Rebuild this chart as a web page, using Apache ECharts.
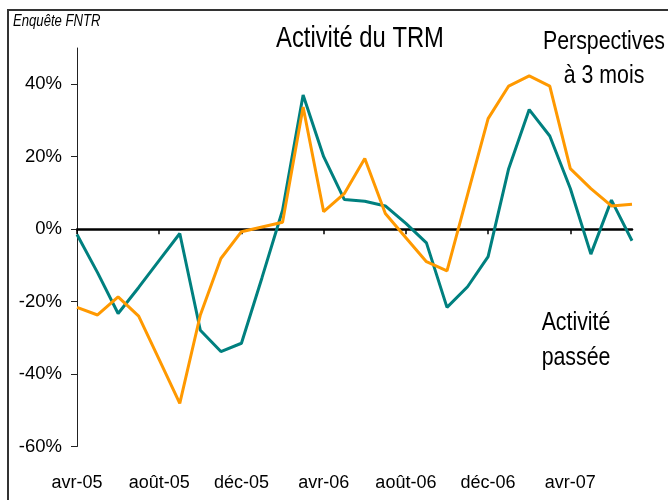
<!DOCTYPE html>
<html>
<head>
<meta charset="utf-8">
<script src="https://cdn.jsdelivr.net/npm/echarts@6/dist/echarts.min.js"></script>
<style>html,body{margin:0;padding:0;background:#fff}#c{width:668px;height:500px}</style>
</head>
<body>
<div id="c"></div>
<script>
const categories = ['avr-05','mai-05','juin-05','juil-05','août-05','sept-05','oct-05','nov-05','déc-05','janv-06','févr-06','mars-06','avr-06','mai-06','juin-06','juil-06','août-06','sept-06','oct-06','nov-06','déc-06','janv-07','févr-07','mars-07','avr-07','mai-07','juin-07','juil-07'];
const activitePassee = [-1.5,-12,-23.3,-16.1,-8.6,-1.2,-27.9,-33.8,-31.5,-13.4,5.2,37,20,8.2,7.7,6.4,1.6,-3.8,-21.6,-15.9,-7.6,16.7,33,25.7,11.2,-6.9,8,-3.2];
const perspectives = [-21.6,-23.7,-18.7,-24,-36,-48.1,-23.7,-8.1,-0.7,0.6,1.9,33.7,4.8,9.8,19.5,4.3,-2.4,-9,-11.5,9.5,30.5,39.5,42.3,39.5,16.7,11.2,6.4,6.9];
const yTicks = [-60,-40,-20,0,20,40];

const FONT = "'Liberation Sans',Arial,sans-serif";
const NARROW = 0.82;
const chart = echarts.init(document.getElementById('c'), null, {renderer:'canvas'});
chart.setOption({
  animation:false,
  backgroundColor:'#fff',
  grid:{left:77,right:36,top:48,bottom:53.5,containLabel:false},
  xAxis:[{
    type:'category',data:categories,boundaryGap:false,position:'bottom',
    axisLine:{onZero:true,lineStyle:{color:'#000',width:2.5}},
    axisTick:{show:true,interval:3,length:5,lineStyle:{color:'#000',width:1.5}},
    axisLabel:{show:false},splitLine:{show:false}
  },{
    type:'category',data:categories,boundaryGap:false,position:'bottom',
    axisLine:{show:false,onZero:false},axisTick:{show:false},
    axisLabel:{show:true,interval:3,margin:28,color:'#000',fontSize:18,fontFamily:FONT},
    splitLine:{show:false}
  }],
  yAxis:{
    type:'value',min:-60,max:50,interval:20,
    axisLine:{show:true,lineStyle:{color:'#222',width:1}},
    axisTick:{show:true,length:6,customValues:yTicks,lineStyle:{color:'#222'}},
    axisLabel:{color:'#000',fontSize:18.5,fontFamily:FONT,margin:15,customValues:yTicks,formatter:v=>v+'%'},
    splitLine:{show:false}
  },
  series:[
    {name:'Activité passée',type:'line',data:activitePassee,xAxisIndex:0,symbol:'none',lineStyle:{color:'#00807F',width:3},itemStyle:{color:'#00807F'}},
    {name:'Perspectives à 3 mois',type:'line',data:perspectives,xAxisIndex:0,symbol:'none',lineStyle:{color:'#FF9900',width:3},itemStyle:{color:'#FF9900'}}
  ],
  graphic:[
    {type:'rect',shape:{x:8,y:10,width:700,height:520},style:{fill:'none',stroke:'#333',lineWidth:2},silent:true,z:-1},
    {type:'text',x:13,y:22,scaleX:NARROW,style:{text:'Enquête FNTR',font:'italic 16px '+FONT,fill:'#000',align:'left',verticalAlign:'middle'}},
    {type:'text',x:360,y:39,scaleX:NARROW,style:{text:'Activité du TRM',font:'29px '+FONT,fill:'#000',align:'center',verticalAlign:'middle'}},
    {type:'text',x:604,y:59,scaleX:NARROW,style:{text:'Perspectives\nà 3 mois',font:'26px '+FONT,lineHeight:34,fill:'#000',align:'center',verticalAlign:'middle'}},
    {type:'text',x:576,y:340,scaleX:NARROW,style:{text:'Activité\npassée',font:'26px '+FONT,lineHeight:35,fill:'#000',align:'center',verticalAlign:'middle'}}
  ]
});
</script>
</body>
</html>
